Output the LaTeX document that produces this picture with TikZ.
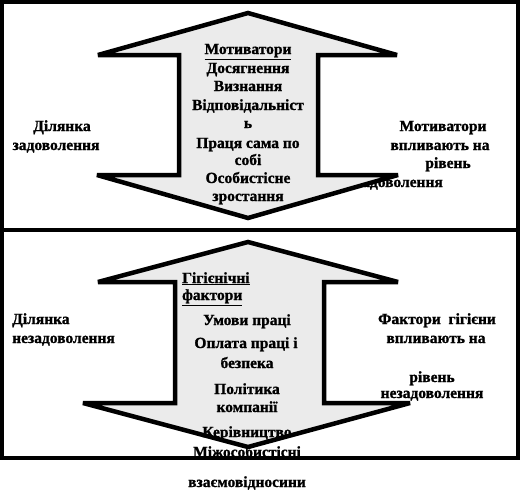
\documentclass[tikz,border=0pt]{standalone}
\usepackage{fontspec}
\setmainfont{Liberation Serif}[BoldFeatures={FakeBold=1.2}]
\begin{document}
\begin{tikzpicture}[x=1pt,y=-1pt,
  txt/.style={font=\bfseries\fontsize{15.5}{17}\selectfont, inner sep=0pt, anchor=base},
  txtl/.style={txt, anchor=base west},
  arrowfill/.style={fill=black!8},
  arrowline/.style={draw=black, line width=4.5pt, line join=miter, miter limit=2},
  frame/.style={draw=black, line width=4pt}]
\useasboundingbox (0,0) rectangle (520,490);
% ---- side texts (behind arrows)
\node[txt] (tl1) at (62,131) {Ділянка};
\node[txt] (tl2) at (56,150) {задоволення};
\node[txt] (tr1) at (443,131) {Мотиватори};
\node[txt] (tr2) at (440,150) {впливають на};
\node[txt] (tr3) at (448,168) {рівень};
\node[txt, anchor=base east] (tr4) at (443,187) {задоволення};
\node[txtl] (bl1) at (12,324) {Ділянка};
\node[txtl] (bl2) at (12,343) {незадоволення};
\node[txt] (br1) at (437,324) {Фактори\ \ гігієни};
\node[txt] (br2) at (436,343) {впливають на};
\node[txt] (br3) at (432,382) {рівень};
\node[txt] (br4) at (432,398) {незадоволення};
% ---- arrow fills
\path[arrowfill] (248,13) -- (397,55) -- (318,55) -- (318,175) -- (398,175) -- (248,218) -- (97,175) -- (179,175) -- (179,55) -- (98,55) -- cycle;
\path[arrowfill] (248,242) -- (398,282) -- (324,282) -- (324,403) -- (410,403) -- (248,447) -- (83,403) -- (175,403) -- (175,282) -- (98,282) -- cycle;
% ---- centre texts
\node[txt] (m0) at (248,54) {\underline{Мотиватори}};
\node[txt] (m1) at (248,73) {Досягнення};
\node[txt] (m2) at (248,91) {Визнання};
\node[txt] (m3) at (248,110) {Відповідальніст};
\node[txt] (m4) at (248,128) {ь};
\node[txt] (m5) at (248,148) {Праця сама по};
\node[txt] (m6) at (248,165) {собі};
\node[txt] (m7) at (248,183) {Особистісне};
\node[txt] (m8) at (248,201) {зростання};
\node[txtl] (h0) at (182,283) {\underline{Гігієнічні}};
\node[txtl] (h1) at (182,300) {\underline{фактори}};
\node[txt] (h2) at (247,325) {Умови праці};
\node[txt] (h3) at (246,348) {Оплата праці і};
\node[txt] (h4) at (247,368) {безпека};
\node[txt] (h5) at (247,394) {Політика};
\node[txt] (h6) at (247,412) {компанії};
\node[txt] (h7) at (247,437) {Керівництво};
\node[txt] (h8) at (247,457) {Міжособистісні};
\node[txt] (h9) at (247,487) {взаємовідносини};
% ---- arrow outlines
\draw[arrowline] (248,13) -- (397,55) -- (318,55) -- (318,175) -- (398,175) -- (248,218) -- (97,175) -- (179,175) -- (179,55) -- (98,55) -- cycle;
\draw[arrowline] (248,242) -- (398,282) -- (324,282) -- (324,403) -- (410,403) -- (248,447) -- (83,403) -- (175,403) -- (175,282) -- (98,282) -- cycle;
% ---- frames
\draw[frame] (2,2) rectangle (518,230);
\draw[frame] (2,230) rectangle (518,458);
\end{tikzpicture}
\end{document}
